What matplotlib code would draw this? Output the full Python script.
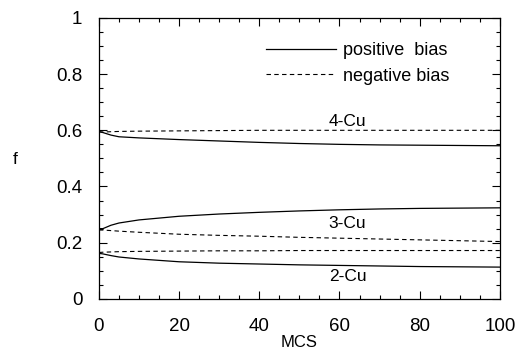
import numpy as np
import matplotlib.pyplot as plt
from matplotlib.ticker import MultipleLocator

plt.rcParams['font.family'] = ['Liberation Sans', 'DejaVu Sans']

# MCS sample points
mcs = [0, 1, 3, 5, 10, 20, 30, 40, 50, 60, 70, 80, 90, 100]

# fractions
cu4_pos = [0.595, 0.592, 0.583, 0.577, 0.573, 0.567, 0.562, 0.557, 0.553, 0.550, 0.548, 0.547, 0.546, 0.545]
cu4_neg = [0.595, 0.594, 0.595, 0.596, 0.597, 0.598, 0.599, 0.600, 0.600, 0.600, 0.600, 0.600, 0.600, 0.600]
cu3_pos = [0.250, 0.250, 0.262, 0.270, 0.281, 0.294, 0.302, 0.308, 0.313, 0.317, 0.320, 0.322, 0.323, 0.324]
cu3_neg = [0.245, 0.245, 0.243, 0.241, 0.237, 0.230, 0.226, 0.223, 0.219, 0.216, 0.213, 0.210, 0.207, 0.204]
cu2_pos = [0.162, 0.160, 0.154, 0.149, 0.142, 0.132, 0.127, 0.124, 0.121, 0.119, 0.117, 0.115, 0.114, 0.113]
cu2_neg = [0.165, 0.166, 0.167, 0.168, 0.169, 0.170, 0.171, 0.171, 0.172, 0.172, 0.172, 0.172, 0.172, 0.172]

labels = ['4-Cu', '3-Cu', '2-Cu']
label_y = [0.63, 0.27, 0.078]
label_x = 62

fig = plt.figure(figsize=(5.18, 3.52), dpi=100)
ax = fig.add_axes([0.191, 0.151, 0.774, 0.798])

lw = 0.9
ax.plot(mcs, cu4_pos, 'k-', lw=lw, label='positive  bias')
ax.plot(mcs, cu4_neg, 'k--', lw=0.8, dashes=(4, 3), label='negative bias')
ax.plot(mcs, cu3_pos, 'k-', lw=lw)
ax.plot(mcs, cu3_neg, 'k--', lw=0.8, dashes=(4, 3))
ax.plot(mcs, cu2_pos, 'k-', lw=lw)
ax.plot(mcs, cu2_neg, 'k--', lw=0.8, dashes=(4, 3))

for lab, yy in zip(labels, label_y):
    ax.text(label_x, yy, lab, ha='center', va='center', fontsize=12.5)

ax.set_xlim(0, 100)
ax.set_ylim(0, 1)
ax.xaxis.set_minor_locator(MultipleLocator(5))
ax.yaxis.set_minor_locator(MultipleLocator(0.05))
ax.set_xticks([0, 20, 40, 60, 80, 100])
ax.set_xticklabels(['0', '20', '40', '60', '80', '100'])
ax.set_yticks([0, 0.2, 0.4, 0.6, 0.8, 1])
ax.set_yticklabels(['0', '0.2', '0.4', '0.6', '0.8', '1'])
ax.tick_params(which='both', direction='in', top=True, right=True, labelsize=13.5)
ax.tick_params(which='major', length=6, width=0.8)
ax.tick_params(which='minor', length=3, width=0.8)
ax.tick_params(axis='x', pad=13.5)
ax.tick_params(axis='y', pad=12)
for s in ax.spines.values():
    s.set_linewidth(0.9)

ax.set_xlabel('MCS', fontsize=12)
ax.xaxis.set_label_coords(0.5, -0.128)
ax.set_ylabel('f', fontsize=12.5, rotation=0, va='center', ha='center')
ax.yaxis.set_label_coords(-0.21, 0.495)

ax.legend(loc='center left', bbox_to_anchor=(0.375, 0.838), frameon=False,
          handlelength=3.9, handletextpad=0.4, fontsize=13, labelspacing=0.45)

fig.savefig('out.png', dpi=100)
